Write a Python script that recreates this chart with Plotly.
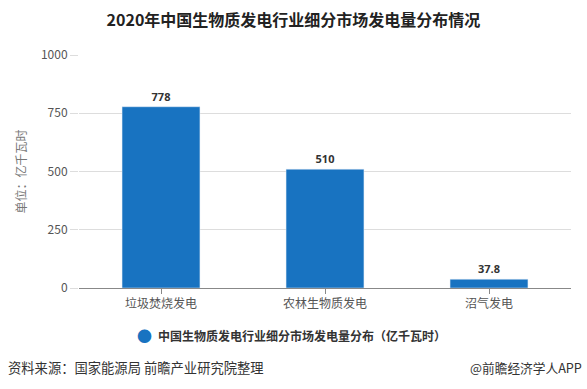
import plotly.graph_objects as go

categories = ["垃圾焚烧发电", "农林生物质发电", "沼气发电"]
values = [778, 510, 37.8]
value_labels = ["778", "510", "37.8"]
series_name = "中国生物质发电行业细分市场发电量分布（亿千瓦时）"
y_ticks = [0, 250, 500, 750, 1000]

W, H = 587, 389
L, R, T, B = 79, 16, 55, 101
PW, PH = W - L - R, H - T - B
FONT = "Noto Sans CJK SC"


def px(x):
    return (x - L) / PW


def py(y):
    return (H - B - y) / PH


fig = go.Figure()
fig.add_trace(go.Bar(
    x=categories, y=values, name=series_name,
    marker=dict(color="#1873C1"),
    width=0.475,
    text=value_labels, textposition="outside",
    textfont=dict(size=11, color="#333333", family="Open Sans"),
    texttemplate="<b>%{text}</b>",
    cliponaxis=False,
    showlegend=False,
))

fig.update_layout(
    width=W, height=H,
    margin=dict(l=L, r=R, t=T, b=B, autoexpand=False),
    paper_bgcolor="white", plot_bgcolor="white",
    font=dict(family=FONT, color="#555555"),
    bargap=0.525,
    title=dict(text="<b>2020年中国生物质发电行业细分市场发电量分布情况</b>",
               x=0.5, xanchor="center", xref="container", y=1 - 20 / H, yanchor="middle",
               font=dict(size=16, color="#222222", family=FONT)),
    xaxis=dict(
        showgrid=False, showline=True, linecolor="#888888", linewidth=1,
        ticks="outside", ticklen=5, tickcolor="#888888",
        tickfont=dict(size=12, color="#555555"), automargin=False,
    ),
    yaxis=dict(
        range=[0, 1000], tickvals=y_ticks,
        showgrid=True, gridcolor="#dddddd", gridwidth=1,
        zeroline=False, showline=False,
        ticks="outside", ticklen=8, tickcolor="#dddddd",
        tickfont=dict(size=12, color="#555555"), automargin=False,
        title=dict(text="单位：亿千瓦时", font=dict(size=12, color="#777777"), standoff=11),
    ),
    showlegend=False,
)

# legend-like marker and text
fig.add_annotation(x=px(144), y=py(335), xref="paper", yref="paper",
                   text="●", showarrow=False, font=dict(size=15, color="#1873C1"),
                   xanchor="center", yanchor="middle")
fig.add_annotation(x=px(156), y=py(335), xref="paper", yref="paper",
                   text="<b>" + series_name + "</b>", showarrow=False,
                   font=dict(size=12, color="#333333", family=FONT),
                   xanchor="left", yanchor="middle")

# source lines
fig.add_annotation(x=px(6), y=py(367), xref="paper", yref="paper",
                   text="资料来源：国家能源局 前瞻产业研究院整理", showarrow=False,
                   font=dict(size=13.3, color="#333333", family=FONT),
                   xanchor="left", yanchor="middle")
fig.add_annotation(x=px(584), y=py(367), xref="paper", yref="paper",
                   text="@前瞻经济学人APP", showarrow=False,
                   font=dict(size=12.7, color="#333333", family=FONT),
                   xanchor="right", yanchor="middle")

fig.write_html("out.html", config={"displayModeBar": False},
               post_script="document.body.style.margin='0';document.body.style.overflow='hidden';")
